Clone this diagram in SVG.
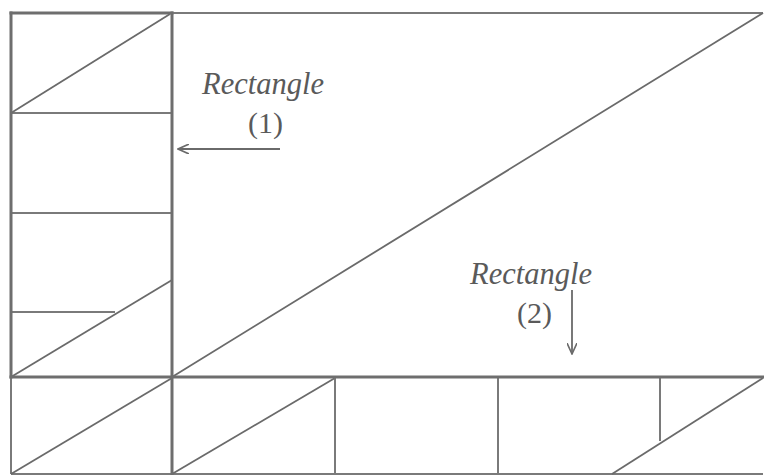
<svg xmlns="http://www.w3.org/2000/svg" width="764" height="475" viewBox="0 0 764 475">
<defs>
<style>
.thick{stroke:#6e6e6e;stroke-width:3;fill:none;stroke-linecap:square}
.thin{stroke:#7a7a7a;stroke-width:2;fill:none}
.diag{stroke:#6a6a6a;stroke-width:1.8;fill:none}
.lbl{font-family:"Liberation Serif","Times New Roman",serif;font-style:italic;font-size:30.5px;fill:#5a5a5a}
.num{font-family:"Liberation Serif","Times New Roman",serif;font-size:30px;fill:#5a5a5a}
.arr{stroke:#6a6a6a;stroke-width:1.8;fill:none}
</style>
<marker id="ah" viewBox="0 0 12 10" refX="11" refY="5" markerWidth="12" markerHeight="10" markerUnits="userSpaceOnUse" orient="auto">
<path d="M0,0 L11,5 L0,10" fill="none" stroke="#6a6a6a" stroke-width="1.6"/>
</marker>
</defs>
<rect width="764" height="475" fill="#ffffff"/>
<g id="left-column">
<line class="thin" x1="11" y1="113" x2="172" y2="113"/>
<line class="thin" x1="11" y1="213" x2="172" y2="213"/>
<line class="thin" x1="11" y1="312" x2="115" y2="312"/>
<line class="diag" x1="11" y1="113" x2="170" y2="14"/>
<line class="diag" x1="11" y1="377" x2="172" y2="280"/>
<line class="thick" x1="11" y1="13" x2="172" y2="13"/>
<line class="thick" x1="11" y1="13" x2="11" y2="377"/>
</g>
<g id="rectangle-1-big">
<line class="thin" x1="172" y1="13" x2="763" y2="13"/>
<line class="diag" x1="172" y1="377" x2="763" y2="13"/>
</g>
<g id="bottom-row">
<line class="thin" x1="11" y1="377" x2="11" y2="474"/>
<line class="thin" x1="11" y1="474" x2="763" y2="474"/>
<line class="diag" x1="11" y1="474" x2="172" y2="378"/>
<line class="diag" x1="172" y1="474" x2="335" y2="378"/>
<line class="thin" x1="335" y1="377" x2="335" y2="474"/>
<line class="thin" x1="498" y1="377" x2="498" y2="474"/>
<line class="thin" x1="660" y1="377" x2="660" y2="441"/>
<line class="diag" x1="612" y1="474" x2="763" y2="378"/>
</g>
<g id="dividers">
<line class="thick" x1="172" y1="13" x2="172" y2="474"/>
<line class="thick" x1="11" y1="377" x2="763" y2="377"/>
</g>
<g id="label-1">
<text class="lbl" x="202" y="94">Rectangle</text>
<text class="num" x="265.5" y="133" text-anchor="middle">(1)</text>
</g>
<g id="label-2">
<text class="lbl" x="470" y="284">Rectangle</text>
<text class="num" x="534.5" y="323" text-anchor="middle">(2)</text>
</g>
<g id="connectors">
<line class="arr" x1="280" y1="149" x2="178" y2="149" marker-end="url(#ah)"/>
<line class="arr" x1="572" y1="290" x2="572" y2="354" marker-end="url(#ah)"/>
</g>
</svg>
